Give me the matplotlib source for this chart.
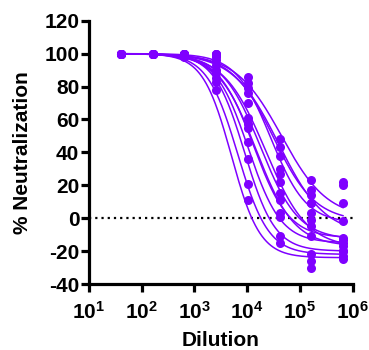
import numpy as np
import matplotlib
matplotlib.use("Agg")
import matplotlib.pyplot as plt

# Dilutions (4-fold series starting at 1:40)
dilutions = [40, 160, 640, 2560, 10240, 40960, 163840, 655360]

# % neutralization per sample (one list per serum sample)
s01 = [100, 100, 99, 78, 11, -15, -22, -25]
s02 = [100, 100, 98, 83, 21, -11, -26, -20]
s03 = [100, 100, 100, 85, 36, 1, -30, -17]
s04 = [100, 100, 99, 88, 46, 3, -11, -15]
s05 = [100, 100, 100, 90, 55, 11, -5, -12]
s06 = [100, 100, 99, 93, 57, 15, 3, -23]
s07 = [100, 100, 100, 96, 61, 22, -1, -13]
s08 = [100, 100, 100, 98, 70, 27, 9, -20]
s09 = [100, 100, 99, 99, 76, 30, 9, -2]
s10 = [100, 100, 100, 100, 79, 38, 14, 9]
s11 = [100, 100, 100, 100, 82, 43, 17, 20]
s12 = [100, 100, 100, 100, 86, 48, 23, 22]
samples = [s01, s02, s03, s04, s05, s06, s07, s08, s09, s10, s11, s12]

# Fitted 4-parameter logistic parameters per sample
fit_top = [100, 100, 100, 100, 100, 100, 100, 100, 100, 100, 100, 100]
fit_bottom = [-24, -22, -20, -15, -12, -17, -13, -18, -3, -2, -10, 0]
fit_logic50 = [3.70, 3.82, 3.95, 4.02, 4.12, 4.17, 4.25, 4.35, 4.45, 4.50, 4.60, 4.65]
fit_hill = [1.6, 1.5, 1.5, 1.4, 1.3, 1.2, 1.2, 1.1, 1.3, 1.1, 1.0, 1.0]

y_ticks = [-40, -20, 0, 20, 40, 60, 80, 100, 120]
x_ticks = [1e1, 1e2, 1e3, 1e4, 1e5, 1e6]
x_ticklabels = [r"$\mathbf{10^{%d}}$" % k for k in range(1, 7)]

color = "#7F00FF"

plt.rcParams["font.family"] = ["Liberation Sans", "DejaVu Sans"]
plt.rcParams["font.weight"] = "bold"
plt.rcParams["mathtext.fontset"] = "custom"
plt.rcParams["mathtext.rm"] = "Liberation Sans:bold"
plt.rcParams["mathtext.bf"] = "Liberation Sans:bold"
plt.rcParams["mathtext.it"] = "Liberation Sans:bold"

fig = plt.figure(figsize=(3.69, 3.50), dpi=100)
ax = fig.add_axes([89 / 369, 1 - 284 / 350, (352.7 - 89) / 369, (284 - 20.7) / 350])

L = np.log10(dilutions)
xx = np.logspace(L[0], L[-1], 300)
for vals, top, bot, lic, h in zip(samples, fit_top, fit_bottom, fit_logic50, fit_hill):
    yy = bot + (top - bot) / (1 + 10 ** ((np.log10(xx) - lic) * h))
    ax.plot(xx, yy, color=color, lw=1.1, zorder=2)
    ax.plot(dilutions, vals, "o", color=color, ms=6.5, mec="none", zorder=3)

ax.axhline(0, color="black", ls=(0, (1, 1.8)), lw=1.6, zorder=1)

ax.set_xscale("log")
ax.set_xlim(10, 1e6)
ax.set_ylim(-40, 120)
ax.set_yticks(y_ticks)
ax.set_yticklabels([str(v) for v in y_ticks])
ax.set_xticks(x_ticks)
ax.set_xticklabels(x_ticklabels)
ax.xaxis.set_minor_locator(matplotlib.ticker.NullLocator())

for s in ["top", "right"]:
    ax.spines[s].set_visible(False)
for s in ["left", "bottom"]:
    ax.spines[s].set_linewidth(2.3)
ax.tick_params(axis="both", which="major", width=2.3, length=6, labelsize=15)
ax.tick_params(axis="y", pad=1)
ax.tick_params(axis="x", pad=6)

ax.set_ylabel("% Neutralization", fontsize=15, fontweight="bold")
ax.set_xlabel("Dilution", fontsize=15, fontweight="bold")
ax.yaxis.set_label_coords(-0.216, 0.5)
ax.xaxis.set_label_coords(0.5, -0.180)

fig.savefig("out.png", dpi=100)
